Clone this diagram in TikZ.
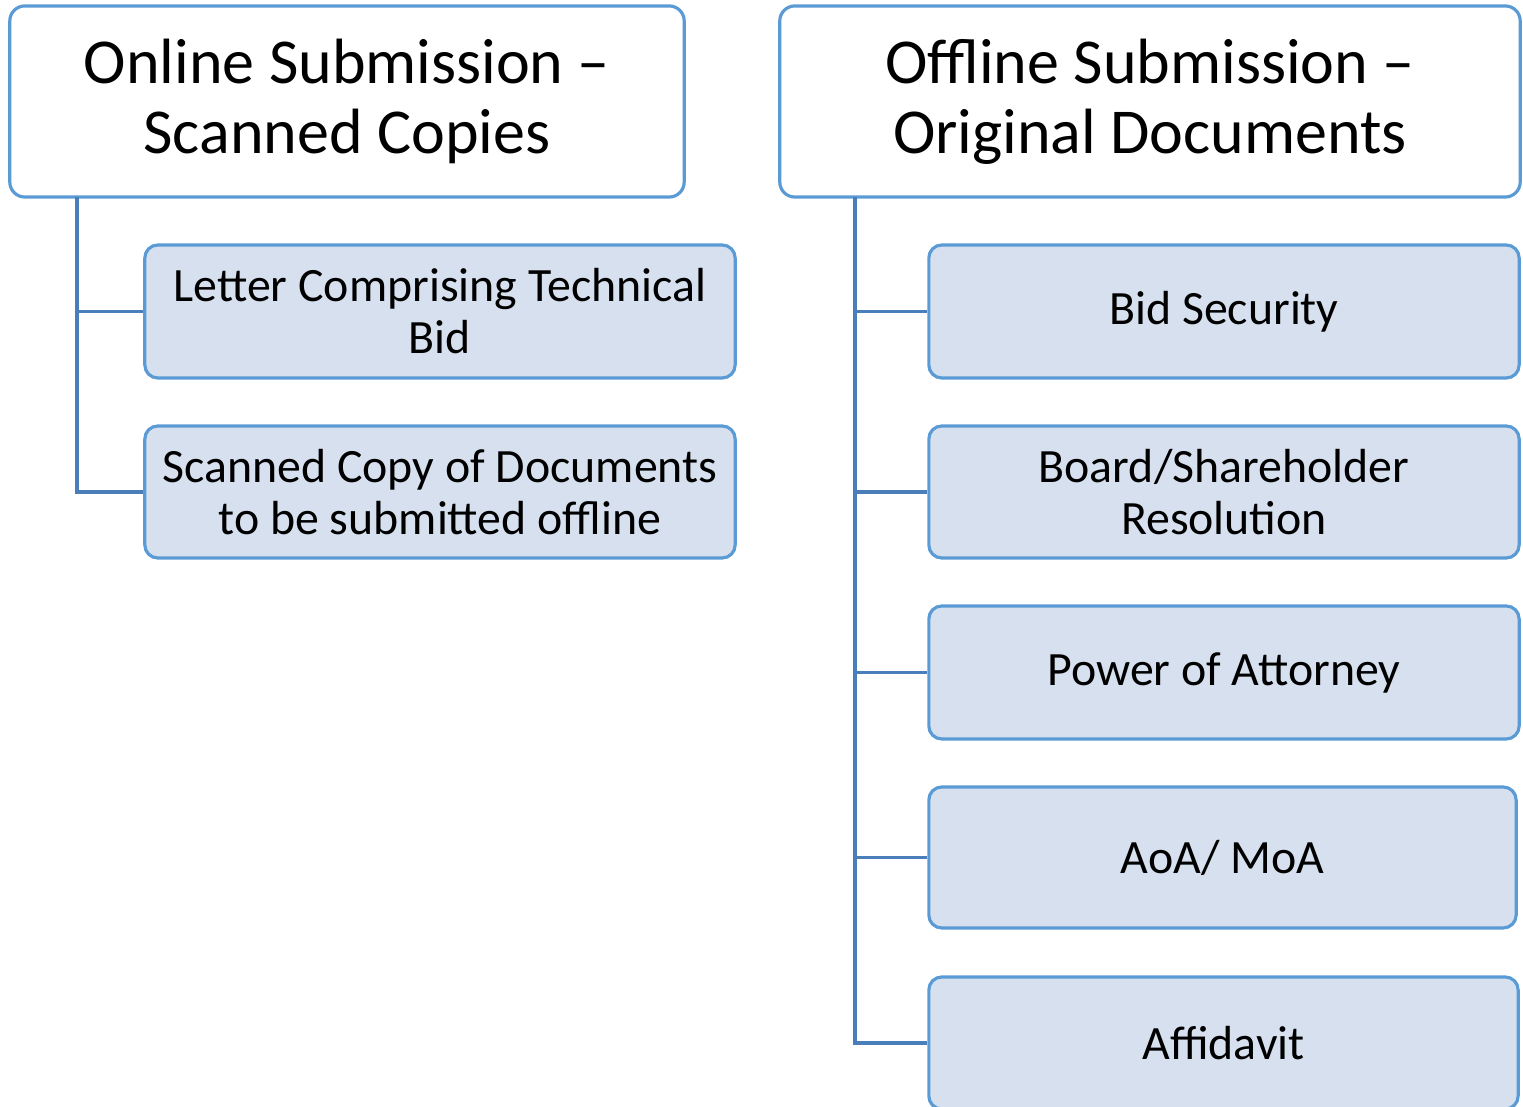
\documentclass[tikz,border=0pt]{standalone}
\usepackage{fontspec}
\setmainfont{Carlito}
\usetikzlibrary{positioning}

\definecolor{boxblue}{RGB}{91,155,213}
\definecolor{linkblue}{RGB}{74,126,187}
\definecolor{leafblue}{RGB}{214,224,239}

\tikzset{
  head/.style={draw=boxblue, line width=0.9pt, fill=white, rounded corners=0.15cm,
    align=center, inner sep=0pt, font=\fontsize{18.2}{20}\selectfont},
  leaf/.style={draw=boxblue, line width=0.9pt, fill=leafblue, rounded corners=0.13cm,
    align=center, inner sep=0pt, font=\fontsize{13.6}{14.8}\selectfont},
  link/.style={draw=linkblue, line width=0.9pt}
}

\begin{document}
\begin{tikzpicture}[x=0.01cm, y=-0.01cm]

\useasboundingbox (0,0) rectangle (1523,1107);

\node[head, minimum width=6.74cm, minimum height=1.91cm] (online) at (347,101.5)
  {Online Submission –\\Scanned Copies};
\node[head, minimum width=7.40cm, minimum height=1.91cm] (offline) at (1150,101.5)
  {Offline Submission –\\Original Documents};

\coordinate (online-t) at (77,197);
\coordinate (offline-t) at (855,197);

% online
\node[leaf, minimum width=5.90cm, minimum height=1.33cm] (letter) at (440,311.5)
  {Letter Comprising Technical\\Bid};
\node[leaf, minimum width=5.90cm, minimum height=1.32cm] (scan) at (440,492)
  {Scanned Copy of Documents\\to be submitted offline};

% offline
\node[leaf, minimum width=5.90cm, minimum height=1.33cm] (bid) at (1224,311.5) {Bid Security};
\node[leaf, minimum width=5.90cm, minimum height=1.32cm] (board) at (1224,492)
  {Board/Shareholder\\Resolution};
\node[leaf, minimum width=5.90cm, minimum height=1.33cm] (poa) at (1224,672.5) {Power of Attorney};
\node[leaf, minimum width=5.87cm, minimum height=1.41cm] (aoa) at (1222.5,857.5) {AoA/ MoA};
\node[leaf, minimum width=5.89cm, minimum height=1.32cm] (affidavit) at (1223.5,1043) {Affidavit};

\draw[link] (online-t) |- (letter.west);
\draw[link] (online-t) |- (scan.west);

\draw[link] (offline-t) |- (bid.west);
\draw[link] (offline-t) |- (board.west);
\draw[link] (offline-t) |- (poa.west);
\draw[link] (offline-t) |- (aoa.west);
\draw[link] (offline-t) |- (affidavit.west);

\end{tikzpicture}
\end{document}
